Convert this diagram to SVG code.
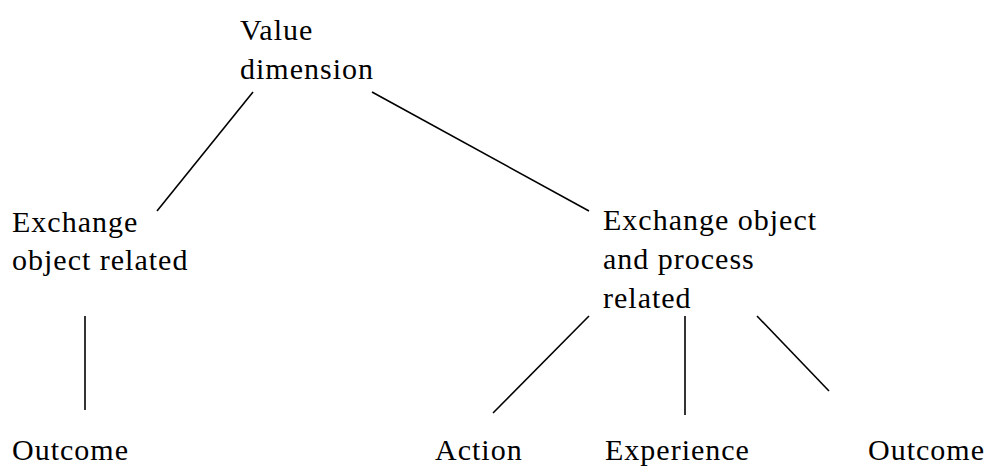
<svg xmlns="http://www.w3.org/2000/svg" width="999" height="468" viewBox="0 0 999 468">
<style>
text{font-family:"Liberation Serif","DejaVu Serif",serif;font-size:30px;letter-spacing:1px;fill:#000}
.c line{stroke:#000;stroke-width:1.6;fill:none}
</style>
<rect width="999" height="468" fill="#fff"/>
<g id="value-dimension"><text x="240" y="40">Value</text><text x="240" y="79">dimension</text></g>
<g id="exchange-object-related"><text x="12" y="232">Exchange</text><text x="12" y="270">object related</text></g>
<g id="exchange-object-process-related"><text x="603" y="230">Exchange object</text><text x="603" y="269">and process</text><text x="603" y="308">related</text></g>
<g id="outcome-left"><text x="12" y="460">Outcome</text></g>
<g id="action"><text x="435" y="460">Action</text></g>
<g id="experience"><text x="605" y="460">Experience</text></g>
<g id="outcome-right"><text x="868" y="460">Outcome</text></g>
<g id="connectors" class="c">
<line x1="253" y1="92" x2="157" y2="211"/>
<line x1="372" y1="92" x2="589" y2="211"/>
<line x1="85" y1="316" x2="85" y2="410"/>
<line x1="589" y1="316" x2="493" y2="413"/>
<line x1="685" y1="316" x2="685" y2="415"/>
<line x1="757" y1="316" x2="829" y2="391"/>
</g>
</svg>
